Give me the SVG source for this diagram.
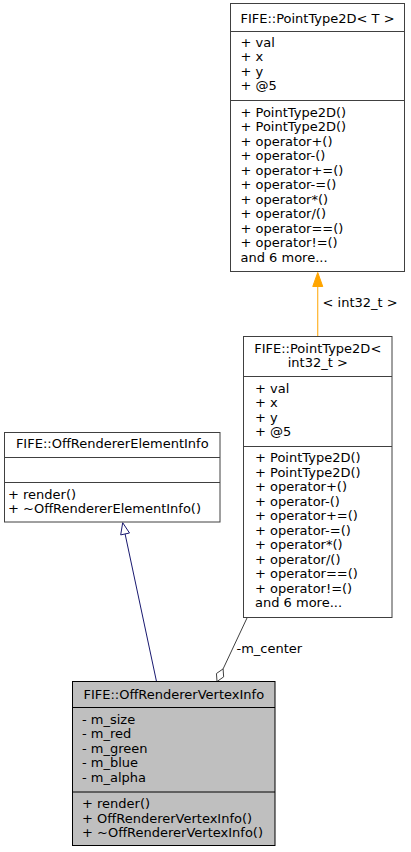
<svg xmlns="http://www.w3.org/2000/svg" width="411" height="852" viewBox="0 0 411 852">
<style>
text{font-family:"DejaVu Sans","Liberation Sans",sans-serif;font-size:13px;fill:#000}
.c{text-anchor:middle}
.box{fill:#fff;stroke:#404040;stroke-width:1}
.focus{fill:#bfbfbf;stroke:#000;stroke-width:1}
.div{stroke:#404040;stroke-width:1}
.divf{stroke:#000;stroke-width:1}
</style>
<rect width="411" height="852" fill="#fff"/>
<g id="connectors">
<line x1="317.75" y1="336.5" x2="317.75" y2="286.5" stroke="#ffa500" stroke-width="1"/>
<polygon points="317.75,272.5 312.75,286.5 322.75,286.5" fill="#ffa500" stroke="#ffa500"/>
<text x="322.5" y="306.5">&lt; int32_t &gt;</text>
<line x1="156.5" y1="681.5" x2="125.1" y2="534" stroke="#191970" stroke-width="1"/>
<polygon points="122.7,522.7 129.5,533 120.7,534.9" fill="#fff" stroke="#191970"/>
<line x1="223.1" y1="668.9" x2="247" y2="618" stroke="#404040" stroke-width="1"/>
<polygon points="217,681.5 223.65,676.9 223.1,668.9 216.45,673.5" fill="#fff" stroke="#404040"/>
<text x="236.5" y="652.5">-m_center</text>
</g>
<g id="node_pt2d_T">
<rect class="box" x="230.5" y="3.5" width="174" height="268"/>
<line class="div" x1="230.5" y1="31.5" x2="404.5" y2="31.5"/>
<line class="div" x1="230.5" y1="100.5" x2="404.5" y2="100.5"/>
<text class="c" x="317.5" y="22.5">FIFE::PointType2D&lt; T &gt;</text>
<text x="240.5" y="46.5">+ val</text>
<text x="240.5" y="61">+ x</text>
<text x="240.5" y="75.5">+ y</text>
<text x="240.5" y="90">+ @5</text>
<text x="240.5" y="116.5">+ PointType2D()</text>
<text x="240.5" y="131">+ PointType2D()</text>
<text x="240.5" y="145.5">+ operator+()</text>
<text x="240.5" y="160">+ operator-()</text>
<text x="240.5" y="174.5">+ operator+=()</text>
<text x="240.5" y="189">+ operator-=()</text>
<text x="240.5" y="203.5">+ operator*()</text>
<text x="240.5" y="218">+ operator/()</text>
<text x="240.5" y="232.5">+ operator==()</text>
<text x="240.5" y="247">+ operator!=()</text>
<text x="240.5" y="261.5">and 6 more...</text>
</g>
<g id="node_pt2d_int32">
<rect class="box" x="243.5" y="336.5" width="148.5" height="281"/>
<line class="div" x1="243.5" y1="376.5" x2="392" y2="376.5"/>
<line class="div" x1="243.5" y1="446.5" x2="392" y2="446.5"/>
<text class="c" x="317.75" y="352.5">FIFE::PointType2D&lt;</text>
<text class="c" x="317.75" y="366.5">int32_t &gt;</text>
<text x="255" y="392.5">+ val</text>
<text x="255" y="407">+ x</text>
<text x="255" y="421.5">+ y</text>
<text x="255" y="436">+ @5</text>
<text x="255" y="462">+ PointType2D()</text>
<text x="255" y="476.5">+ PointType2D()</text>
<text x="255" y="491">+ operator+()</text>
<text x="255" y="505.5">+ operator-()</text>
<text x="255" y="520">+ operator+=()</text>
<text x="255" y="534.5">+ operator-=()</text>
<text x="255" y="549">+ operator*()</text>
<text x="255" y="563.5">+ operator/()</text>
<text x="255" y="578">+ operator==()</text>
<text x="255" y="592.5">+ operator!=()</text>
<text x="255" y="607">and 6 more...</text>
</g>
<g id="node_elementinfo">
<rect class="box" x="4.5" y="432.5" width="215.5" height="89.5"/>
<line class="div" x1="4.5" y1="457.5" x2="220" y2="457.5"/>
<line class="div" x1="4.5" y1="482.5" x2="220" y2="482.5"/>
<text class="c" x="112.25" y="448">FIFE::OffRendererElementInfo</text>
<text x="8" y="498.5">+ render()</text>
<text x="8" y="513">+ ~OffRendererElementInfo()</text>
</g>
<g id="node_vertexinfo">
<rect class="focus" x="72.5" y="681.5" width="202.5" height="164"/>
<line class="divf" x1="72.5" y1="707.5" x2="275" y2="707.5"/>
<line class="divf" x1="72.5" y1="792" x2="275" y2="792"/>
<text class="c" x="173.75" y="699">FIFE::OffRendererVertexInfo</text>
<text x="82" y="723.5">- m_size</text>
<text x="82" y="738">- m_red</text>
<text x="82" y="752.5">- m_green</text>
<text x="82" y="767">- m_blue</text>
<text x="82" y="781.5">- m_alpha</text>
<text x="82" y="808">+ render()</text>
<text x="82" y="822.5">+ OffRendererVertexInfo()</text>
<text x="82" y="837">+ ~OffRendererVertexInfo()</text>
</g>
</svg>
